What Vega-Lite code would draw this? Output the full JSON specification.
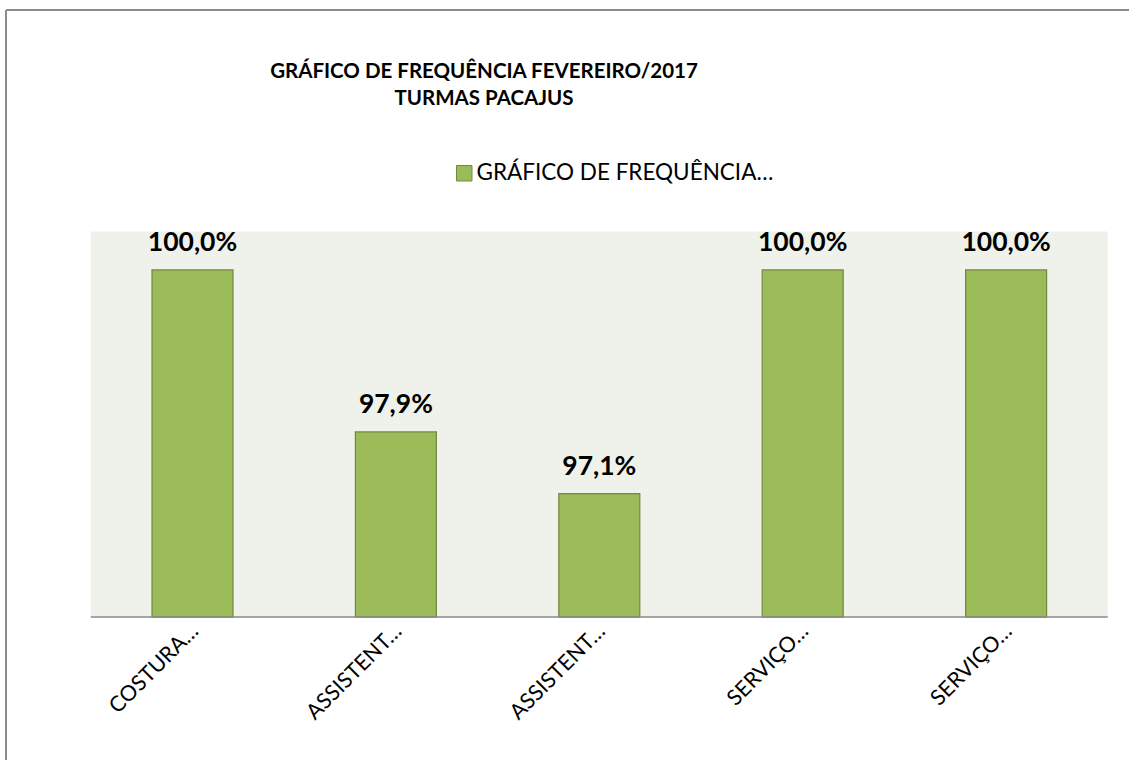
{
  "$schema": "https://vega.github.io/schema/vega-lite/v6.json",
  "autosize": {"type": "none"},
  "padding": {"left": 6, "top": 10, "right": 0, "bottom": 0},
  "width": 1140,
  "height": 760,
  "background": "#ffffff",
  "view": {"stroke": "transparent", "fill": "transparent"},
  "config": {
    "view": {"stroke": "transparent"},
    "scale": {"continuousPadding": 0},
    "locale": {
      "number": {"decimal": ",", "thousands": ".", "grouping": [3], "currency": ["R$", ""], "percent": "%"},
      "time": {"dateTime": "%x %X", "date": "%d/%m/%Y", "time": "%H:%M:%S", "periods": ["AM", "PM"], "days": ["Domingo","Segunda","Terça","Quarta","Quinta","Sexta","Sábado"], "shortDays": ["Dom","Seg","Ter","Qua","Qui","Sex","Sáb"], "months": ["Janeiro","Fevereiro","Março","Abril","Maio","Junho","Julho","Agosto","Setembro","Outubro","Novembro","Dezembro"], "shortMonths": ["Jan","Fev","Mar","Abr","Mai","Jun","Jul","Ago","Set","Out","Nov","Dez"]}
    },
    "font": "Lato"
  },
  "title": {
    "text": ["GRÁFICO DE FREQUÊNCIA FEVEREIRO/2017", "TURMAS PACAJUS"],
    "anchor": "start",
    "align": "center",
    "frame": "group",
    "orient": "top",
    "offset": 0,
    "baseline": "alphabetic",
    "dx": 478,
    "dy": 116,
    "lineHeight": 27,
    "font": "Lato",
    "fontSize": 20.5,
    "fontWeight": "bold",
    "color": "#000000"
  },
  "data": {
    "values": [
      {"id": 1, "turma": "COSTURA…", "freq": 1.0, "serie": "GRÁFICO DE FREQUÊNCIA…"},
      {"id": 2, "turma": "ASSISTENT…", "freq": 0.979, "serie": "GRÁFICO DE FREQUÊNCIA…"},
      {"id": 3, "turma": "ASSISTENT…", "freq": 0.971, "serie": "GRÁFICO DE FREQUÊNCIA…"},
      {"id": 4, "turma": "SERVIÇO…", "freq": 1.0, "serie": "GRÁFICO DE FREQUÊNCIA…"},
      {"id": 5, "turma": "SERVIÇO…", "freq": 1.0, "serie": "GRÁFICO DE FREQUÊNCIA…"}
    ]
  },
  "layer": [
    {
      "data": {"values": [{}]},
      "mark": {"type": "rect", "fill": "#EFF2EA"},
      "encoding": {
        "x": {"datum": 0.5, "type": "quantitative", "scale": {"domain": [0.0831, 5.6878], "nice": false, "zero": false, "padding": 0}, "axis": null},
        "x2": {"datum": 5.5},
        "y": {"datum": 0.955, "type": "quantitative", "scale": {"domain": [0.93518, 1.0337], "nice": false, "zero": false, "padding": 0}, "axis": null},
        "y2": {"datum": 1.005}
      }
    },
    {
      "data": {"values": [{}]},
      "mark": {"type": "rule", "stroke": "#8c8c8c", "strokeWidth": 2},
      "encoding": {
        "x": {"datum": 0.0831, "type": "quantitative"},
        "x2": {"datum": 5.6878},
        "y": {"datum": 1.0337, "type": "quantitative"}
      }
    },
    {
      "data": {"values": [{}]},
      "mark": {"type": "rule", "stroke": "#8c8c8c", "strokeWidth": 2},
      "encoding": {
        "x": {"datum": 0.0831, "type": "quantitative"},
        "y": {"datum": 0.93518, "type": "quantitative"},
        "y2": {"datum": 1.0337}
      }
    },
    {
      "mark": {"type": "bar", "width": 81, "fill": "#9BBB59", "stroke": "#71893F", "strokeWidth": 1.2},
      "encoding": {
        "x": {"field": "id", "type": "quantitative"},
        "y": {"field": "freq", "type": "quantitative"},
        "y2": {"datum": 0.955},
        "color": {
          "field": "serie", "type": "nominal", "title": null,
          "scale": {"range": ["#9BBB59"]},
          "legend": {
            "orient": "none", "legendX": 447, "legendY": 152, "padding": 0,
            "symbolType": "square", "symbolSize": 240, "symbolStrokeColor": "#71893F", "symbolStrokeWidth": 1,
            "labelFont": "Lato", "labelFontSize": 22.5, "labelColor": "#000000", "labelOffset": 1, "labelLimit": 600
          }
        }
      }
    },
    {
      "data": {"values": [{}]},
      "mark": {"type": "rule", "stroke": "#8a8a8a", "strokeWidth": 1.5},
      "encoding": {
        "x": {"datum": 0.5, "type": "quantitative"},
        "x2": {"datum": 5.5},
        "y": {"datum": 0.955, "type": "quantitative"}
      }
    },
    {
      "mark": {"type": "text", "font": "Lato", "fontSize": 26.5, "fontWeight": "bold", "baseline": "alphabetic", "align": "center", "dy": -19, "color": "#000000"},
      "encoding": {
        "x": {"field": "id", "type": "quantitative"},
        "y": {"field": "freq", "type": "quantitative"},
        "text": {"field": "freq", "type": "quantitative", "format": ".1%"}
      }
    },
    {
      "mark": {"type": "text", "font": "Lato", "fontSize": 21.5, "angle": -45, "align": "right", "baseline": "middle", "dx": -6, "dy": 10, "color": "#000000"},
      "encoding": {
        "x": {"field": "id", "type": "quantitative"},
        "y": {"datum": 0.955, "type": "quantitative"},
        "text": {"field": "turma", "type": "nominal"}
      }
    }
  ]
}
